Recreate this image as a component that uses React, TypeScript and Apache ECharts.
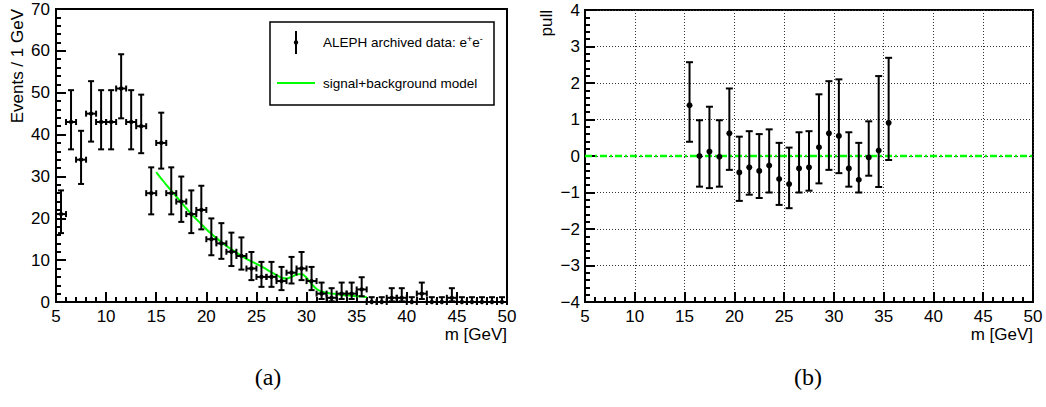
import React, { useEffect, useRef } from "react";
import * as echarts from "echarts";

// ---------- data (a): event counts per 1 GeV bin ----------
const binCenters = [
  5.5, 6.5, 7.5, 8.5, 9.5, 10.5, 11.5, 12.5, 13.5, 14.5,
  15.5, 16.5, 17.5, 18.5, 19.5, 20.5, 21.5, 22.5, 23.5, 24.5,
  25.5, 26.5, 27.5, 28.5, 29.5, 30.5, 31.5, 32.5, 33.5, 34.5,
  35.5, 36.5, 37.5, 38.5, 39.5, 40.5, 41.5, 42.5, 43.5, 44.5,
  45.5, 46.5, 47.5, 48.5, 49.5,
];
const counts = [
  21, 43, 34, 45, 43, 43, 51, 43, 42, 26,
  38, 26, 24, 21, 22, 15, 14, 12, 11, 8,
  6, 6, 5, 7, 8, 5, 2, 1, 2, 2,
  3, 0, 0, 1, 1, 0, 2, 0, 0, 1,
  0, 0, 0, 0, 0,
];
// lower / upper ends of the (Poisson) error bars
const countLow = [
  16.46, 36.47, 28.2, 38.32, 36.47, 36.47, 43.88, 36.47, 35.55, 20.94,
  31.87, 20.94, 19.14, 16.46, 17.35, 11.17, 10.31, 8.59, 7.74, 5.23,
  3.62, 3.62, 2.84, 4.42, 5.23, 2.84, 0.71, 0.17, 0.71, 0.71,
  1.37, 0, 0, 0.17, 0.17, 0, 0.71, 0, 0, 0.17,
  0, 0, 0, 0, 0,
];
const countHigh = [
  26.66, 50.61, 40.9, 52.76, 50.61, 50.61, 59.19, 50.61, 49.54, 32.17,
  45.23, 32.17, 29.97, 26.66, 27.77, 19.97, 18.84, 16.57, 15.43, 11.95,
  9.58, 9.58, 8.38, 10.77, 11.95, 8.38, 4.64, 3.3, 4.64, 4.64,
  5.92, 1.15, 1.15, 3.3, 3.3, 1.15, 4.64, 1.15, 1.15, 3.3,
  1.15, 1.15, 1.15, 1.15, 1.15,
];

// ---------- signal+background model curve ----------
const modelMass = [
  15, 15.5, 16, 16.5, 17, 17.5, 18, 18.5, 19, 19.5,
  20, 20.5, 21, 21.5, 22, 22.5, 23, 23.5, 24, 24.5,
  25, 25.5, 26, 26.5, 27, 27.5, 28, 28.5, 29, 29.5,
  30, 30.5, 31, 31.5, 32, 32.5, 33, 33.5, 34, 34.5,
  35, 35.5, 36,
];
const modelValue = [
  31, 29.5, 28, 26.6, 25.2, 23.8, 22.4, 21, 19.8, 18.6,
  17.4, 16.3, 15.3, 14.3, 13.4, 12.6, 11.8, 11, 10.3, 9.7,
  9.1, 8.5, 7.8, 7.1, 6.4, 5.8, 5.6, 6.0, 6.6, 6.7,
  5.8, 4.3, 3.1, 2.5, 2.2, 2.0, 1.9, 1.7, 1.6, 1.5,
  1.4, 1.3, 1.2,
];

// ---------- data (b): pulls ----------
const pullMass = [
  15.5, 16.5, 17.5, 18.5, 19.5, 20.5, 21.5, 22.5, 23.5, 24.5,
  25.5, 26.5, 27.5, 28.5, 29.5, 30.5, 31.5, 32.5, 33.5, 34.5, 35.5,
];
const pullValue = [
  1.39, 0.0, 0.12, -0.02, 0.62, -0.45, -0.31, -0.41, -0.26, -0.63,
  -0.77, -0.34, -0.31, 0.24, 0.62, 0.55, -0.34, -0.65, -0.04, 0.15, 0.91,
];
const pullLow = [
  0.39, -0.84, -0.88, -0.84, -0.38, -1.23, -1.06, -1.15, -1.0, -1.34,
  -1.43, -1.0, -0.95, -0.75, -0.38, -0.47, -0.84, -1.0, -0.54, -0.85, -0.11,
];
const pullHigh = [
  2.57, 0.98, 1.35, 0.98, 1.85, 0.53, 0.68, 0.6, 0.73, 0.36,
  0.23, 0.65, 0.68, 1.69, 2.05, 2.1, 0.65, 0.36, 0.95, 2.19, 2.69,
];

const xTitle = "m [GeV]";
const yTitleA = "Events / 1 GeV";
const yTitleB = "pull";
const legendData = "ALEPH archived data: e{sup|+}e{sup|-}";
const legendModel = "signal+background model";

const FONT = "'Liberation Sans', Arial, Helvetica, sans-serif";
const SERIF = "'Liberation Serif', 'Times New Roman', serif";
const GREEN = "#00ff00";
const TICK_FS = 17;
const TITLE_FS = 17;

function labelStyle(margin: number) {
  return {
    color: "#000",
    fontFamily: FONT,
    fontSize: TICK_FS,
    margin,
    showMinLabel: true,
    showMaxLabel: true,
    formatter: (v: number) => String(v).replace("-", "\u2212"),
  };
}

function axisCommon(extra: any) {
  return {
    type: "value",
    axisLine: { show: true, onZero: false, lineStyle: { color: "#000", width: 2 } },
    axisTick: { show: true, inside: true, length: 10, lineStyle: { color: "#000", width: 2 } },
    minorTick: { show: true, splitNumber: 5, length: 5, lineStyle: { color: "#000", width: 2 } },
    splitLine: { show: false },
    ...extra,
  };
}

export default function App() {
  const ref = useRef<HTMLDivElement>(null);

  useEffect(() => {
    if (!ref.current) return;
    const chart = echarts.init(ref.current, undefined, { renderer: "svg" });

    const histData = binCenters.map((x, i) => [x, counts[i], countLow[i], countHigh[i]]);
    const modelData = modelMass.map((x, i) => [x, modelValue[i]]);
    const pullData = pullMass.map((x, i) => [x, pullValue[i], pullLow[i], pullHigh[i]]);

    const lineStyle = { stroke: "#000", lineWidth: 2 };
    const gridLine = { show: true, lineStyle: { color: "#333", type: [1, 2], width: 1 } };

    const option: any = {
      animation: false,
      backgroundColor: "#fff",
      grid: [
        { left: 56, top: 9, width: 451, height: 293, show: true, borderColor: "#000", borderWidth: 2, backgroundColor: "transparent" },
        { left: 585, top: 10, width: 448, height: 292, show: true, borderColor: "#000", borderWidth: 2, backgroundColor: "transparent" },
      ],
      xAxis: [
        axisCommon({ gridIndex: 0, min: 5, max: 50, interval: 5, axisLabel: labelStyle(6) }),
        axisCommon({ gridIndex: 1, min: 5, max: 50, interval: 5, axisLabel: labelStyle(6), splitLine: gridLine }),
      ],
      yAxis: [
        axisCommon({ gridIndex: 0, min: 0, max: 70, interval: 10, axisLabel: labelStyle(6) }),
        axisCommon({ gridIndex: 1, min: -4, max: 4, interval: 1, axisLabel: labelStyle(5), splitLine: gridLine }),
      ],
      series: [
        {
          type: "line",
          xAxisIndex: 0,
          yAxisIndex: 0,
          data: modelData,
          smooth: 0.3,
          showSymbol: false,
          lineStyle: { color: GREEN, width: 2 },
          z: 2,
        },
        {
          type: "custom",
          xAxisIndex: 0,
          yAxisIndex: 0,
          data: histData,
          encode: { x: 0, y: 1 },
          z: 3,
          renderItem: (_p: any, api: any) => {
            const x = api.value(0);
            const y = api.value(1);
            const c = api.coord([x, y]);
            const l = api.coord([x - 0.5, y]);
            const r = api.coord([x + 0.5, y]);
            const top = api.coord([x, api.value(3)]);
            const bot = api.coord([x, api.value(2)]);
            const cap = 3;
            return {
              type: "group",
              children: [
                { type: "line", shape: { x1: c[0], y1: top[1], x2: c[0], y2: bot[1] }, style: lineStyle },
                { type: "line", shape: { x1: c[0] - cap, y1: top[1], x2: c[0] + cap, y2: top[1] }, style: lineStyle },
                { type: "line", shape: { x1: c[0] - cap, y1: bot[1], x2: c[0] + cap, y2: bot[1] }, style: lineStyle },
                { type: "line", shape: { x1: l[0], y1: c[1], x2: r[0], y2: c[1] }, style: lineStyle },
                { type: "line", shape: { x1: l[0], y1: c[1] - cap, x2: l[0], y2: c[1] + cap }, style: lineStyle },
                { type: "line", shape: { x1: r[0], y1: c[1] - cap, x2: r[0], y2: c[1] + cap }, style: lineStyle },
                { type: "circle", shape: { cx: c[0], cy: c[1], r: 2.2 }, style: { fill: "#000" } },
              ],
            };
          },
        },
        {
          type: "line",
          xAxisIndex: 1,
          yAxisIndex: 1,
          data: [[5, 0], [50, 0]],
          showSymbol: false,
          lineStyle: { color: GREEN, width: 2.5, type: [7, 3, 2, 3] },
          z: 2,
        },
        {
          type: "custom",
          xAxisIndex: 1,
          yAxisIndex: 1,
          data: pullData,
          encode: { x: 0, y: 1 },
          z: 3,
          renderItem: (_p: any, api: any) => {
            const x = api.value(0);
            const c = api.coord([x, api.value(1)]);
            const top = api.coord([x, api.value(3)]);
            const bot = api.coord([x, api.value(2)]);
            const cap = 3.5;
            return {
              type: "group",
              children: [
                { type: "line", shape: { x1: c[0], y1: top[1], x2: c[0], y2: bot[1] }, style: lineStyle },
                { type: "line", shape: { x1: c[0] - cap, y1: top[1], x2: c[0] + cap, y2: top[1] }, style: lineStyle },
                { type: "line", shape: { x1: c[0] - cap, y1: bot[1], x2: c[0] + cap, y2: bot[1] }, style: lineStyle },
                { type: "circle", shape: { cx: c[0], cy: c[1], r: 3 }, style: { fill: "#000" } },
              ],
            };
          },
        },
      ],
      graphic: [
        // axis titles
        { type: "text", x: 507, y: 334, style: { text: xTitle, font: `${TITLE_FS}px ${FONT}`, fill: "#000", align: "right", verticalAlign: "middle" } },
        { type: "text", x: 1033, y: 334, style: { text: xTitle, font: `${TITLE_FS}px ${FONT}`, fill: "#000", align: "right", verticalAlign: "middle" } },
        { type: "text", x: 17, y: 9, rotation: Math.PI / 2, style: { text: yTitleA, font: `${TITLE_FS}px ${FONT}`, fill: "#000", align: "right", verticalAlign: "middle" } },
        { type: "text", x: 546, y: 10, rotation: Math.PI / 2, style: { text: yTitleB, font: `${TITLE_FS}px ${FONT}`, fill: "#000", align: "right", verticalAlign: "middle" } },
        // panel labels
        { type: "text", x: 268, y: 377, style: { text: "(a)", font: `24px ${SERIF}`, fill: "#000", align: "center", verticalAlign: "middle" } },
        { type: "text", x: 808, y: 377, style: { text: "(b)", font: `24px ${SERIF}`, fill: "#000", align: "center", verticalAlign: "middle" } },
        // legend
        { type: "rect", shape: { x: 270, y: 22, width: 224, height: 83 }, style: { fill: "#fff", stroke: "#000", lineWidth: 1.5 }, z: 10 },
        { type: "line", shape: { x1: 296, y1: 31, x2: 296, y2: 54 }, style: { stroke: "#000", lineWidth: 2 }, z: 11 },
        { type: "circle", shape: { cx: 296, cy: 42.5, r: 2.2 }, style: { fill: "#000" }, z: 11 },
        {
          type: "text", x: 323, y: 34, z: 11,
          style: {
            text: legendData,
            fontSize: 13.5,
            fontFamily: FONT,
            lineHeight: 16,
            fill: "#000",
            align: "left",
            verticalAlign: "top",
            rich: {
              sup: { fontSize: 9, fontFamily: FONT, lineHeight: 16, verticalAlign: "top", fill: "#000" },
            },
          },
        },
        { type: "line", shape: { x1: 277, y1: 83, x2: 315, y2: 83 }, style: { stroke: GREEN, lineWidth: 2 }, z: 11 },
        { type: "text", x: 323, y: 83, style: { text: legendModel, font: `13.5px ${FONT}`, fill: "#000", align: "left", verticalAlign: "middle" }, z: 11 },
      ],
    };

    chart.setOption(option);
    return () => chart.dispose();
  }, []);

  return (
    <div
      ref={ref}
      style={{ position: "absolute", left: 0, top: 0, width: 1046, height: 407, background: "#fff" }}
    />
  );
}
